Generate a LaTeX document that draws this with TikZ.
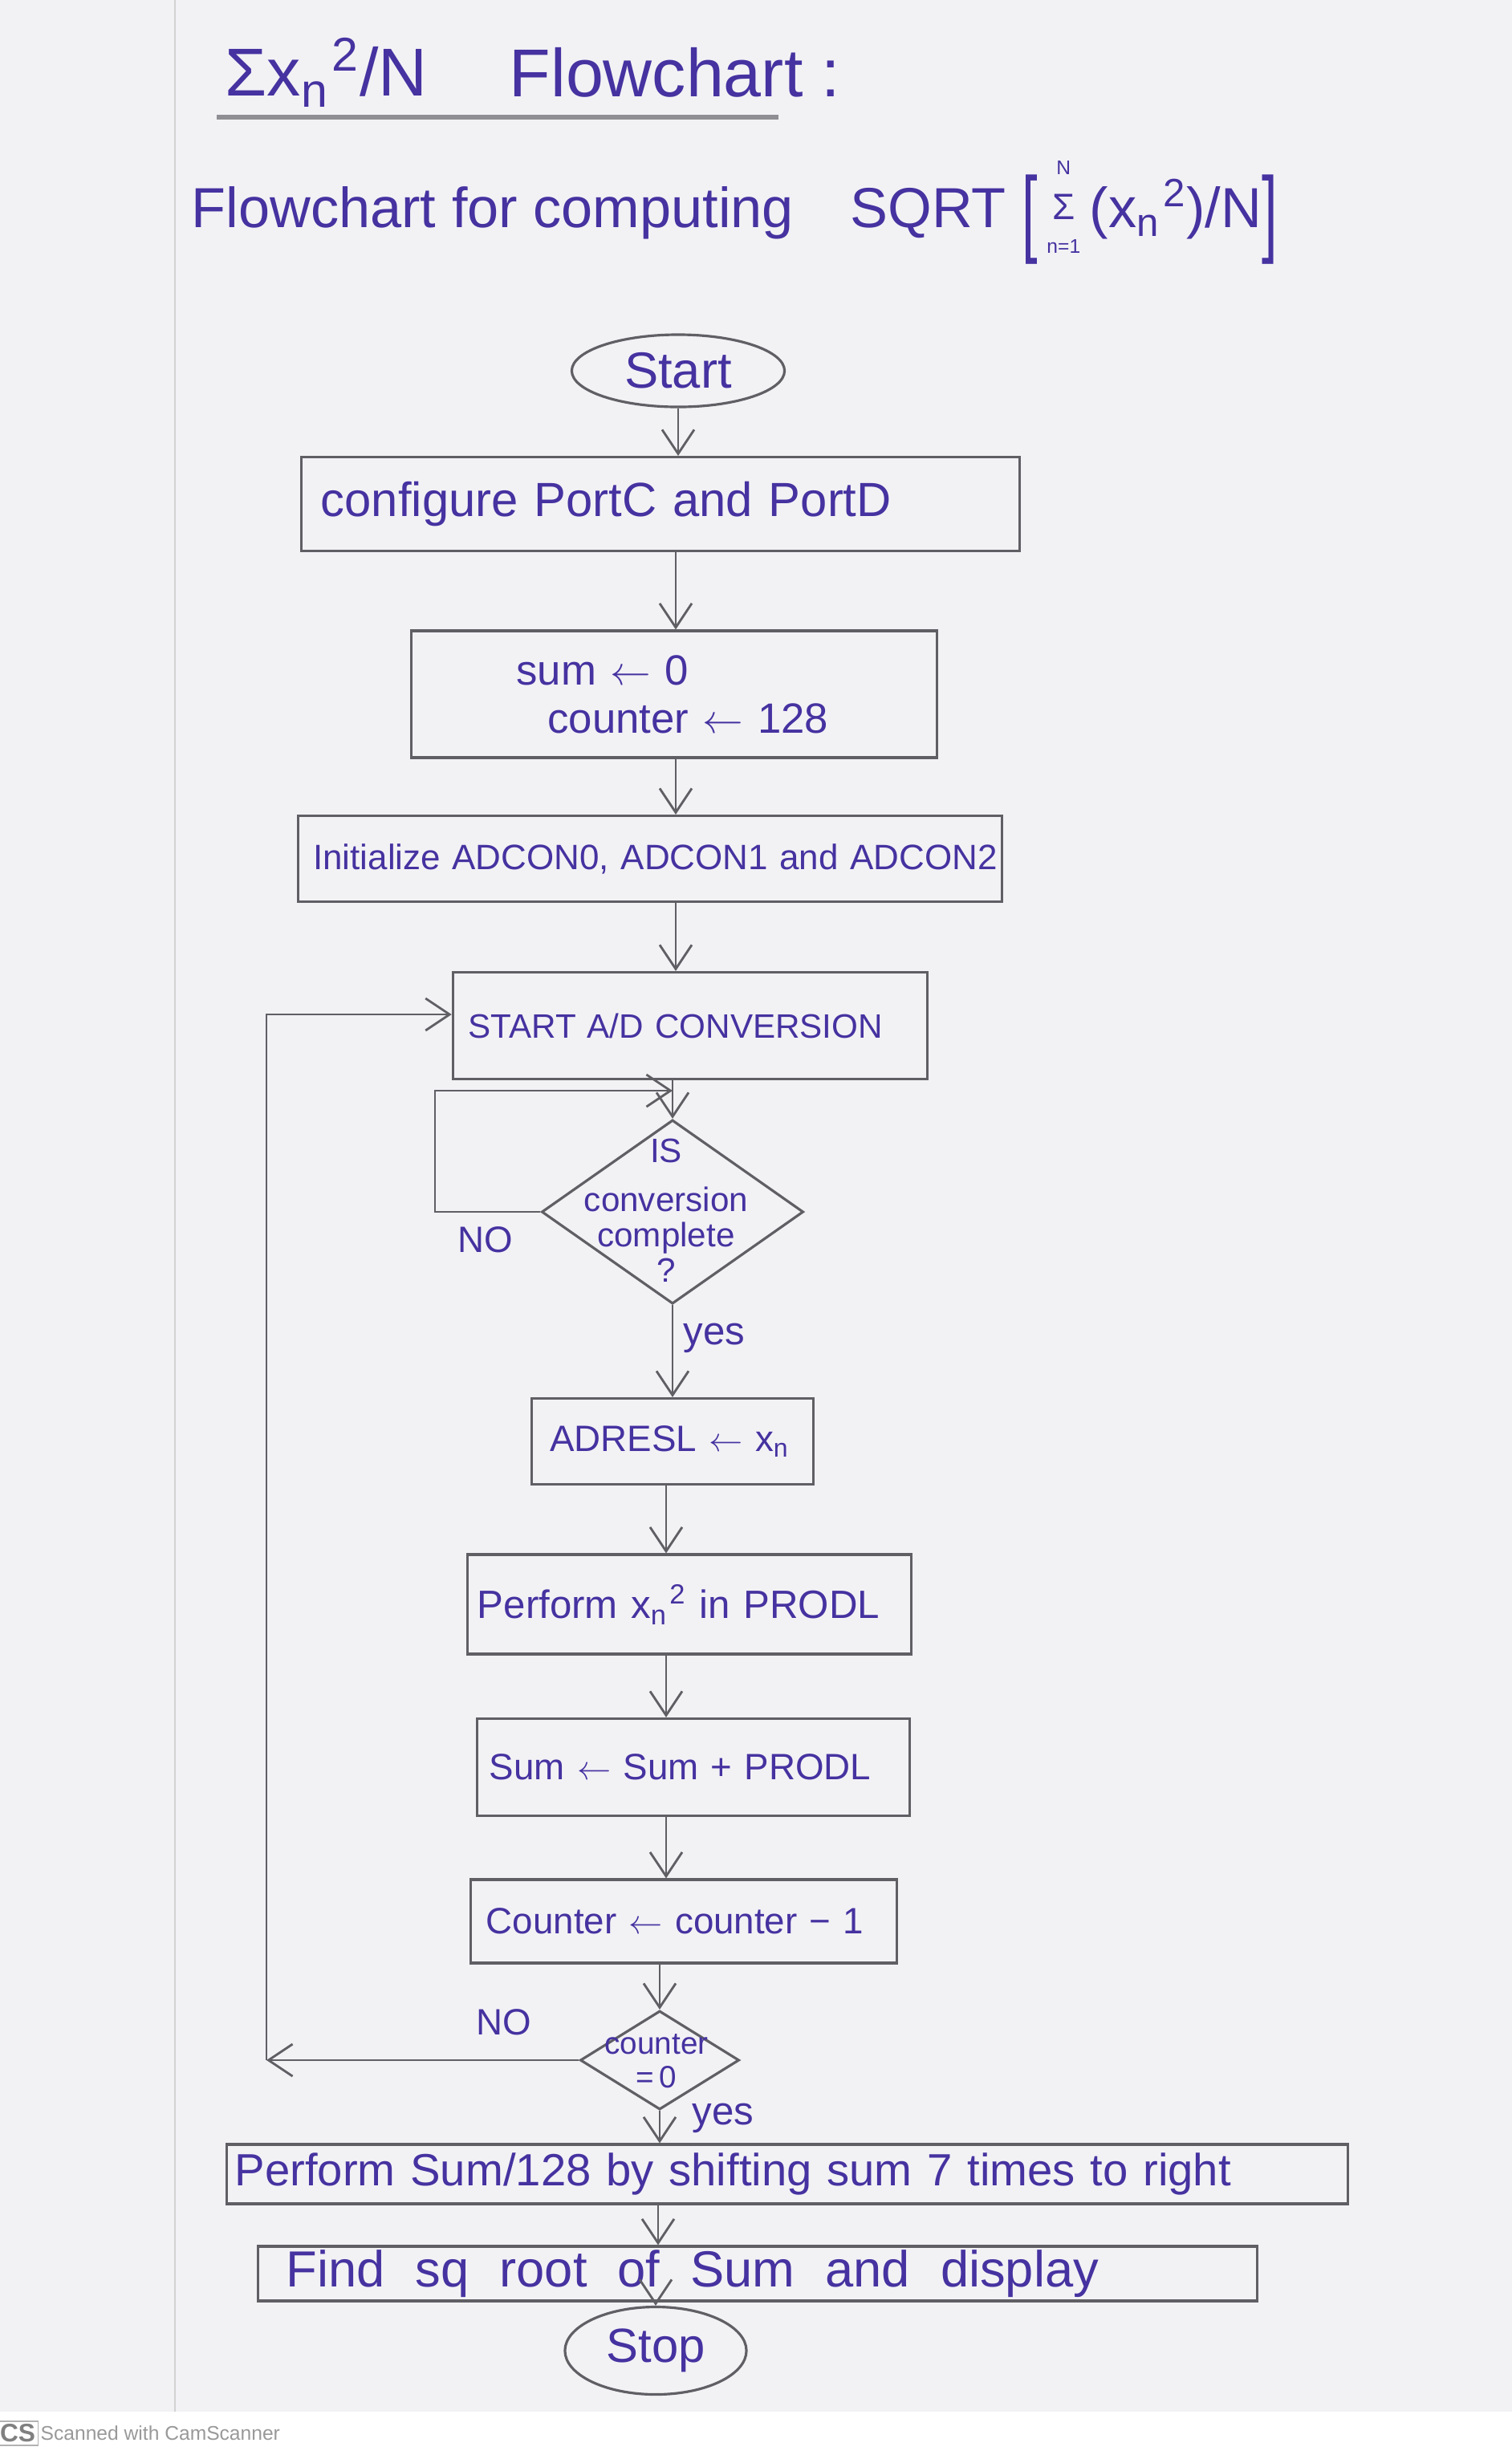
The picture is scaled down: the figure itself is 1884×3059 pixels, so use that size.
\documentclass[tikz,border=0pt]{standalone}
\usepackage{fontspec}
\setmainfont{Liberation Sans}
\usetikzlibrary{shapes.geometric,arrows.meta}
\definecolor{ink}{RGB}{70,50,160}
\definecolor{pencil}{RGB}{95,95,100}
\definecolor{paper}{RGB}{242,242,245}
\newcommand\xnsq{x\textsubscript{n}\kern0.05em\textsuperscript{2}}
\newcommand\la{ $\leftarrow$ }
\newcommand\tallbr[1]{\raisebox{-0.3em}{\scalebox{1}[1.7]{#1}}}
\begin{document}
\begin{tikzpicture}[x=0.01cm,y=-0.01cm,
  box/.style={draw=pencil,line width=0.9pt,rectangle,inner ysep=0pt,text=ink,align=left},
  term/.style={draw=pencil,line width=0.9pt,ellipse,inner sep=0pt,text=ink},
  dec/.style={draw=pencil,line width=0.9pt,diamond,inner sep=0pt},
  arr/.style={draw=pencil,line width=0.8pt,-{Straight Barb[length=3mm,width=4mm]}},
  lbl/.style={text=ink,inner sep=0pt},
]
\fill[paper] (0,0) rectangle (1884,3005);
\fill[white] (0,3005) rectangle (1884,3059);
\useasboundingbox (0,0) rectangle (1884,3059);
\draw[gray!35,line width=0.6pt] (218,0) -- (218,3005);

% titles
\node[lbl,anchor=west,font=\fontsize{24}{28}\selectfont] (t1) at (280,90) {Σ\xnsq/N};
\node[lbl,anchor=west,font=\fontsize{24}{28}\selectfont] (t2) at (634,90) {Flowchart :};
\draw[pencil!70,line width=1.5pt] (270,146) -- (970,146);
\node[lbl,anchor=west,font=\fontsize{20}{24}\selectfont] (sub) at (238,265)
  {Flowchart for computing\quad SQRT \tallbr{[}\,\raisebox{-9pt}{\shortstack{{\fontsize{7}{7}\selectfont N}\\[4pt]{\fontsize{13}{13}\selectfont Σ}\\[4pt]{\fontsize{7}{7}\selectfont n=1}}}\,(\xnsq)/N\tallbr{]}};

% column references
\coordinate (colA) at (842,0);
\coordinate (colB) at (830,0);
\coordinate (colC) at (820,0);

% nodes
\node[term,minimum width=2.65cm,minimum height=0.9cm,font=\fontsize{18}{22}\selectfont] (start) at (845,462) {Start};
\node[box,minimum height=1.17cm,inner xsep=0.24cm,text width=8.46cm,font=\fontsize{17}{20}\selectfont] (b1) at (823,628) {\mbox{configure PortC and PortD}};
\node[box,minimum height=1.58cm,inner xsep=1.31cm,text width=3.93cm,font=\fontsize{15}{17}\selectfont] (b2) at (840,865) {\mbox{sum\la 0}\\\hspace*{0.39cm}\mbox{counter\la 128}};
\node[box,minimum height=1.07cm,inner xsep=0.19cm,text width=8.39cm,font=\fontsize{12.5}{15}\selectfont] (b3) at (810,1070) {\mbox{Initialize ADCON0, ADCON1 and ADCON2}};
\node[box,minimum height=1.33cm,inner xsep=0.19cm,text width=5.53cm,font=\fontsize{12}{15}\selectfont] (b4) at (860,1278) {\mbox{START A/D CONVERSION}};
\node[dec,minimum width=3.26cm,minimum height=2.29cm] (d1) at (838,1510) {};
\node[lbl,align=center,font=\fontsize{12}{12.5}\selectfont] (d1t) at (830,1508) {IS\\[5pt]conversion\\complete\\?};
\node[box,minimum height=1.07cm,inner xsep=0.23cm,text width=3.05cm,font=\fontsize{13}{15}\selectfont] (b5) at (838,1796) {\mbox{ADRESL\la x\textsubscript{n}}};
\node[box,minimum height=1.24cm,inner xsep=0.12cm,text width=5.28cm,font=\fontsize{14}{16}\selectfont] (b6) at (859,1999) {\mbox{Perform \xnsq\ in PRODL}};
\node[box,minimum height=1.21cm,inner xsep=0.15cm,text width=5.08cm,font=\fontsize{13}{15}\selectfont] (b7) at (864,2202) {\mbox{Sum\la Sum + PRODL}};
\node[box,minimum height=1.04cm,inner xsep=0.19cm,text width=4.92cm,font=\fontsize{13}{15}\selectfont] (b8) at (852,2394) {\mbox{Counter\la counter − 1}};
\node[dec,minimum width=1.98cm,minimum height=1.23cm] (d2) at (822,2567) {};
\node[lbl,align=center,font=\fontsize{11}{12}\selectfont] (d2t) at (818,2568) {counter\\=\,0};
\node[box,minimum height=0.74cm,inner xsep=0.10cm,text width=13.76cm,font=\fontsize{16}{18}\selectfont] (b9) at (981,2709) {\mbox{Perform Sum/128 by shifting sum 7 times to right}};
\node[box,minimum height=0.68cm,inner xsep=0.35cm,text width=11.74cm,font=\fontsize{18}{20}\selectfont] (b10) at (944,2833) {\mbox{\spaceskip=0.6em Find sq root of Sum and display}};
\node[term,minimum width=2.26cm,minimum height=1.09cm,font=\fontsize{17}{20}\selectfont] (stop) at (817,2929) {Stop};

% labels
\node[lbl,font=\fontsize{13}{15}\selectfont] (no1) at (605,1545) {NO};
\node[lbl,font=\fontsize{14}{16}\selectfont] (yes1) at (890,1667) {yes};
\node[lbl,font=\fontsize{13}{15}\selectfont] (no2) at (628,2520) {NO};
\node[lbl,font=\fontsize{14}{16}\selectfont] (yes2) at (901,2639) {yes};

% connectors
\draw[arr] (start.south) -- (start.south |- b1.north);
\draw[arr] (colA |- b1.south) -- (colA |- b2.north);
\draw[arr] (colA |- b2.south) -- (colA |- b3.north);
\draw[arr] (colA |- b3.south) -- (colA |- b4.north);
\draw[arr] (d1.north |- b4.south) -- (d1.north);
\draw[arr] (d1.south) -- (d1.south |- b5.north);
\draw[arr] (colB |- b5.south) -- (colB |- b6.north);
\draw[arr] (colB |- b6.south) -- (colB |- b7.north);
\draw[arr] (colB |- b7.south) -- (colB |- b8.north);
\draw[arr] (d2.north |- b8.south) -- (d2.north);
\draw[arr] (d2.south) -- (d2.south |- b9.north);
\draw[arr] (colC |- b9.south) -- (colC |- b10.north);
\draw[arr] (stop.north |- b10.south) -- (stop.north);

% NO loop of first decision
\coordinate (n1) at (542,1359);
\draw[arr] (d1.west) -| (n1) -- (d1.north |- n1);

% NO loop of counter decision
\coordinate (lp) at (332,1264);
\draw[arr] (d2.west) -- (d2.west -| lp);
\draw[arr] (d2.west -| lp) -- (lp) -- (lp -| b4.west);

% scanner mark
\node[draw=gray!60,fill=white,text=gray,font=\fontsize{9}{9}\selectfont\bfseries,inner sep=1pt,minimum size=0.3cm] (cs) at (22,3032) {CS};
\node[anchor=west,text=gray!80,font=\fontsize{7}{8}\selectfont,inner sep=0pt] (scan) at (50,3032) {Scanned with CamScanner};
\end{tikzpicture}
\end{document}
